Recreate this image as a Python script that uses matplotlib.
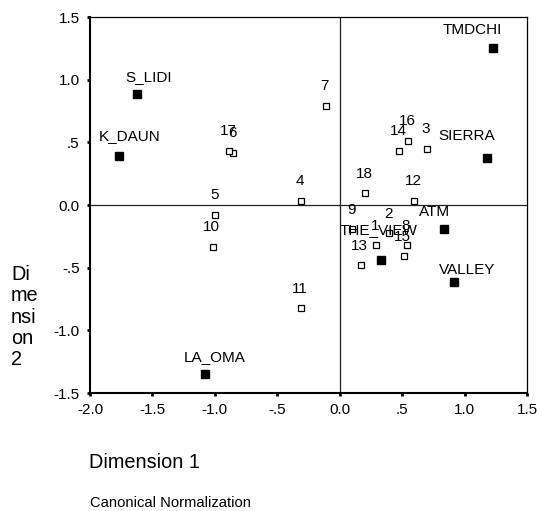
import matplotlib
matplotlib.use("Agg")
import matplotlib.pyplot as plt
import numpy as np

plt.rcParams['font.family'] = ['Liberation Sans', 'DejaVu Sans']

# group centroids (filled squares)
grp_names = ["TMDCHI", "SIERRA", "ATM", "S_LIDI", "K_DAUN", "LA_OMA", "VALLEY", "THE_VIEW"]
grp_x = [1.225, 1.177, 0.838, -1.625, -1.770, -1.081, 0.918, 0.328]
grp_y = [1.255, 0.377, -0.194, 0.883, 0.394, -1.349, -0.612, -0.436]

# cases (open squares)
case_names = [str(i) for i in range(1, 19)]
case_x = [0.288, 0.397, 0.696, -0.310, -0.996, -0.852, -0.112, 0.536, 0.100,
          -1.017, -0.310, 0.597, 0.168, 0.475, 0.512, 0.547, -0.884, 0.205]
case_y = [-0.322, -0.226, 0.447, 0.032, -0.077, 0.418, 0.790, -0.322, -0.194,
          -0.335, -0.825, 0.032, -0.481, 0.434, -0.409, 0.511, 0.434, 0.093]

xticks = [-2.0, -1.5, -1.0, -0.5, 0.0, 0.5, 1.0, 1.5]
xtick_labels = ["-2.0", "-1.5", "-1.0", "-.5", "0.0", ".5", "1.0", "1.5"]
yticks = [-1.5, -1.0, -0.5, 0.0, 0.5, 1.0, 1.5]
ytick_labels = ["-1.5", "-1.0", "-.5", "0.0", ".5", "1.0", "1.5"]

# label offsets for group names (pixels, as SPSS moved them)
grp_off = [(-20, 18), (-20, 22), (-10, 17), (12, 17), (11, 20), (10, 17), (13, 12), (-2, 30)]

W, H = 537, 511
fig = plt.figure(figsize=(W / 100, H / 100), dpi=100)
ax = fig.add_axes([90 / W, 1 - 393 / H, 437 / W, 376 / H])

ax.axhline(0, color="#222222", lw=0.9, zorder=1)
ax.axvline(0, color="#222222", lw=0.9, zorder=1)

ax.plot(case_x, case_y, "s", ms=4.8, mfc="white", mec="black", mew=0.9, ls="none", zorder=3)
ax.plot(grp_x, grp_y, "s", ms=5.3, mfc="black", mec="black", ls="none", zorder=3)

fs = 11
for name, x, y in zip(case_names, case_x, case_y):
    ax.annotate(name, (x, y), xytext=(-1, 19.5), textcoords="offset pixels",
                ha="center", va="center", fontsize=fs, zorder=4)
for name, x, y, (dx, dy) in zip(grp_names, grp_x, grp_y, grp_off):
    ax.annotate(name, (x, y), xytext=(dx, dy), textcoords="offset pixels",
                ha="center", va="center", fontsize=fs, zorder=4)

ax.set_xlim(-2.0, 1.5)
ax.set_ylim(-1.5, 1.5)
ax.set_xticks(xticks)
ax.set_xticklabels(xtick_labels)
ax.set_yticks(yticks)
ax.set_yticklabels(ytick_labels)
ax.tick_params(direction="out", length=2.5, width=2, labelsize=fs, pad=5)

for s in ["left", "bottom"]:
    ax.spines[s].set_linewidth(1.5)
for s in ["top", "right"]:
    ax.spines[s].set_linewidth(0.9)

fig.text(89 / W, 1 - 462 / H, "Dimension 1", fontsize=14.3, ha="left", va="center")
fig.text(90 / W, 1 - 503 / H, "Canonical Normalization", fontsize=10.6, ha="left", va="center")
fig.text(11 / W, 1 - 317 / H, "Di\nme\nnsi\non\n2", fontsize=14.3, ha="left", va="center",
         linespacing=1.15)

fig.savefig("out.png", dpi=100)
